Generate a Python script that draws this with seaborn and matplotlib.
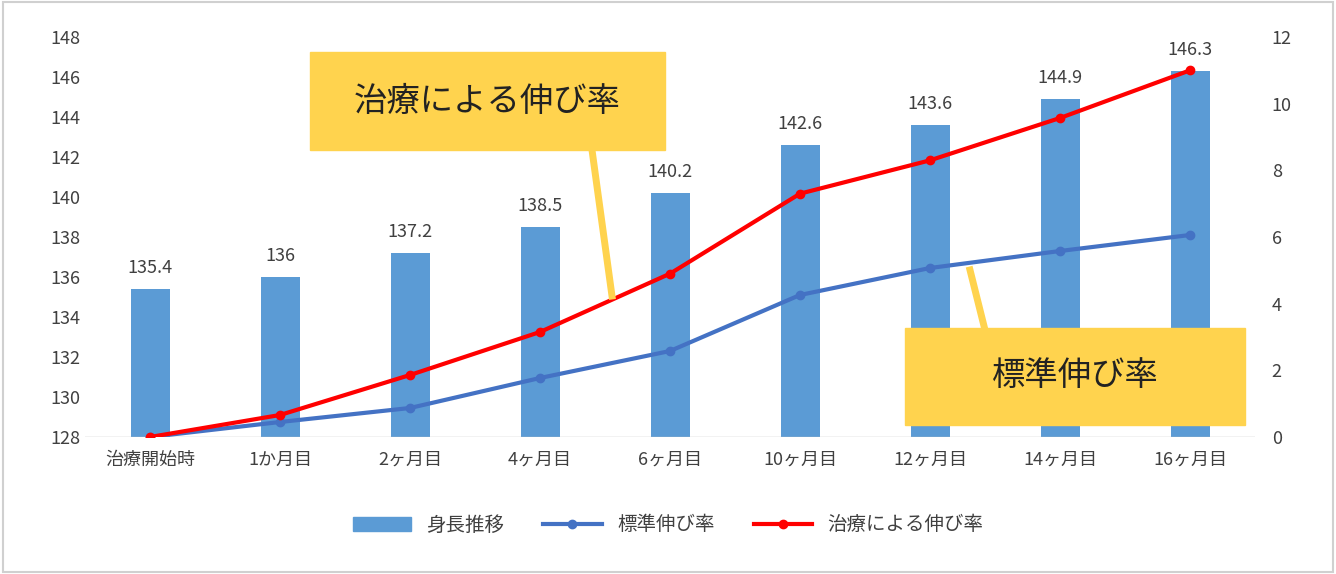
import numpy as np
import pandas as pd
import matplotlib
matplotlib.use("Agg")
import matplotlib.pyplot as plt
import seaborn as sns
from matplotlib.patches import Rectangle
from matplotlib.lines import Line2D

plt.rcParams["font.family"] = "Noto Sans CJK JP"

months = ["治療開始時", "1か月目", "2ヶ月目", "4ヶ月目", "6ヶ月目", "10ヶ月目", "12ヶ月目", "14ヶ月目", "16ヶ月目"]
height = [135.4, 136, 137.2, 138.5, 140.2, 142.6, 143.6, 144.9, 146.3]
std_rate = [0, 0.45, 0.87, 1.77, 2.58, 4.26, 5.07, 5.58, 6.06]
treat_rate = [0, 0.66, 1.86, 3.15, 4.9, 7.3, 8.3, 9.57, 11.0]

df = pd.DataFrame({"month": months, "height": height})
bar_c = "#5B9BD5"
blue = "#4472C4"
red = "#FF0000"

fig = plt.figure(figsize=(13.36, 5.74), dpi=100)
ax = fig.add_axes([85 / 1336, 1 - 437 / 574, 1170 / 1336, 400 / 574])
sns.barplot(data=df, x="month", y="height", color=bar_c, width=0.3, ax=ax,
            saturation=1, bottom=0)
# redraw bars from baseline 128
for p in ax.patches:
    p.set_y(128)
    p.set_height(p.get_height() - 128)
ax.set_ylim(128, 148)
ax.set_yticks(range(128, 149, 2))
for i, v in enumerate(height):
    ax.text(i, v + 0.6, f"{v:g}", ha="center", va="bottom", fontsize=13, color="#404040")
ax.set_xlabel("")
ax.set_ylabel("")
ax.tick_params(length=0, labelsize=13, colors="#404040")
ax.tick_params(axis="x", pad=10)
for s in ax.spines.values():
    s.set_visible(False)
ax.axhline(128, color="#BFBFBF", lw=1)

ax2 = ax.twinx()
x = np.arange(len(months))
ax2.plot(x, std_rate, color=blue, lw=3, marker="o", ms=6)
ax2.plot(x, treat_rate, color=red, lw=3, marker="o", ms=6)
ax2.set_ylim(0, 12)
ax2.set_yticks(range(0, 13, 2))
ax2.tick_params(length=0, labelsize=13, colors="#404040", pad=12)
for s in ax2.spines.values():
    s.set_visible(False)
ax.set_xlim(-0.5, len(months) - 0.5)

# callouts (figure pixel coords)
def fx(px): return px / 1336
def fy(py): return 1 - py / 574
yel = "#FFD34E"
fig.add_artist(Line2D([fx(592), fx(612)], [fy(150), fy(296)], color=yel, lw=5))
fig.add_artist(Rectangle((fx(310), fy(150)), fx(355), 98 / 574, color=yel))
fig.text(fx(487), fy(101), "治療による伸び率", ha="center", va="center", fontsize=24, color="#222222")
fig.add_artist(Line2D([fx(985), fx(970)], [fy(330), fy(270)], color=yel, lw=5))
fig.add_artist(Rectangle((fx(905), fy(425)), fx(340), 97 / 574, color=yel))
fig.text(fx(1075), fy(376), "標準伸び率", ha="center", va="center", fontsize=24, color="#222222")

handles = [Rectangle((0, 0), 1, 1, color=bar_c),
           Line2D([], [], color=blue, lw=3, marker="o", ms=6),
           Line2D([], [], color=red, lw=3, marker="o", ms=6)]
fig.legend(handles, ["身長推移", "標準伸び率", "治療による伸び率"], loc="center",
           bbox_to_anchor=(0.5, fy(525)), ncol=3, frameon=False, fontsize=14,
           handlelength=3, columnspacing=2, labelcolor="#404040")
fig.add_artist(Rectangle((0.002, 0.003), 0.996, 0.994, fill=False, ec="#D0D0D0", lw=1.5))
fig.savefig("out.png", dpi=100, facecolor="white")
